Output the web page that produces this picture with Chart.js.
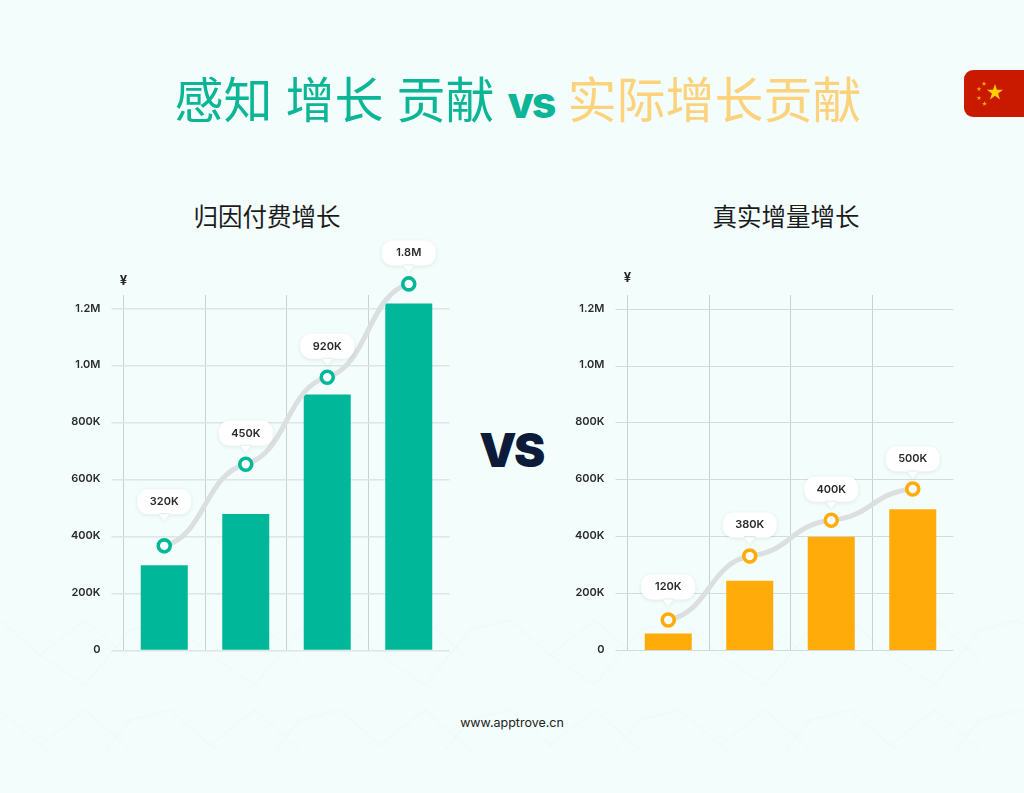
<!DOCTYPE html>
<html>
<head>
<meta charset="utf-8">
<script src="https://cdn.jsdelivr.net/npm/chart.js@4"></script>
<style>
  html, body { margin: 0; padding: 0; }
  body { width: 1024px; height: 793px; position: relative; overflow: hidden; background: #f3fdfc; font-family: "Noto Sans CJK SC", sans-serif; }
  .abs { position: absolute; white-space: nowrap; }
  #decor { left: 0; top: 600px; }
  #title { left: 6px; width: 1024px; top: 62px; text-align: center; font-size: 49px; line-height: 70px; word-spacing: 2px; color: #0cb596; }
  #title .vs { font-family: Inter, sans-serif; font-weight: 800; font-size: 43px; letter-spacing: -2px; }
  #title .real { color: #fdd27c; }
  .sub { top: 199px; width: 300px; text-align: center; font-size: 24.5px; line-height: 34px; color: #1c1c1c; }
  #bigvs { left: 461px; width: 100px; top: 415px; text-align: center; font-family: Inter, sans-serif; font-weight: 900; font-size: 47px; letter-spacing: -2.5px; line-height: 70px; color: #0c1b3a; }
  #site { left: 0; width: 1024px; top: 714px; text-align: center; font-family: Inter, sans-serif; font-size: 12.5px; line-height: 18px; color: #222; }
  #flag { left: 964px; top: 70px; width: 60px; height: 47px; background: #c91a00; border-radius: 9px 0 0 9px; }
  canvas { position: absolute; }
</style>
</head>
<body>
<svg class="abs" id="decor" width="1024" height="193">
  <defs>
    <pattern id="chev" width="170" height="90" patternUnits="userSpaceOnUse">
      <path d="M0 20 L40 55 L85 85 M85 85 L130 30 L170 20 M40 55 L85 20 L130 60" fill="none" stroke="#f0faf9" stroke-width="1.5"/>
    </pattern>
  </defs>
  <rect width="1024" height="150" fill="url(#chev)"/>
</svg>
<div class="abs" id="title">感知 增长 贡献 <span class="vs">vs</span> <span class="real">实际增长贡献</span></div>
<div class="abs sub" style="left:117px">归因付费增长</div>
<div class="abs sub" style="left:636px">真实增量增长</div>
<div class="abs" id="bigvs">VS</div>
<div class="abs" id="site">www.apptrove.cn</div>
<div class="abs" id="flag">
  <svg width="60" height="47" viewBox="0 0 60 47">
    <defs>
      <polygon id="star" points="0,-1 0.225,-0.31 0.95,-0.31 0.36,0.12 0.59,0.81 0,0.38 -0.59,0.81 -0.36,0.12 -0.95,-0.31 -0.225,-0.31"/>
    </defs>
    <use href="#star" fill="#ffd000" transform="translate(31 22.5) scale(8.5)"/>
    <use href="#star" fill="#ffa800" transform="translate(20 13.7) scale(2.6)"/>
    <use href="#star" fill="#ffa800" transform="translate(15 19) scale(2.6)"/>
    <use href="#star" fill="#ffa800" transform="translate(15 28) scale(2.6)"/>
    <use href="#star" fill="#ffa800" transform="translate(20.5 33.7) scale(2.6)"/>
  </svg>
</div>
<canvas id="leftChart" width="410" height="440" style="left:50px;top:230px;width:410px;height:440px"></canvas>
<canvas id="rightChart" width="410" height="440" style="left:554px;top:230px;width:410px;height:440px"></canvas>
<script>
var categories = ["Q1", "Q2", "Q3", "Q4"];
var yTickValues = [0, 200000, 400000, 600000, 800000, 1000000, 1200000];
var yTickLabels = ["0", "200K", "400K", "600K", "800K", "1.0M", "1.2M"];

var attributedBars = [300000, 480000, 900000, 1220000];
var attributedLine = [368000, 655000, 961000, 1289000];
var attributedLabels = ["320K", "450K", "920K", "1.8M"];

var realBars = [60000, 245000, 400000, 497000];
var realLine = [107000, 332000, 458000, 568000];
var realLabels = ["120K", "380K", "400K", "500K"];

// flat S-shaped curve between the points, tension alone does not give this
var sCurve = {
  id: "sCurve",
  beforeDatasetsDraw: function (chart) {
    var meta = chart.getDatasetMeta(1);
    var pts = meta.data;
    for (var i = 0; i < pts.length; i++) {
      var p = pts[i], prev = pts[i - 1], next = pts[i + 1];
      p.cp1x = p.x; p.cp1y = p.y; p.cp2x = p.x; p.cp2y = p.y;
      if (prev) { p.cp1x = p.x - (p.x - prev.x) * 0.5; p.cp1y = p.y - (p.y - prev.y) * 0.12; }
      if (next) { p.cp2x = p.x + (next.x - p.x) * 0.5; p.cp2y = p.y + (next.y - p.y) * 0.12; }
    }
    meta.dataset._pointsUpdated = true;
  }
};

// speech bubbles above the points + the currency mark over the axis
var bubbles = {
  id: "bubbles",
  afterDatasetsDraw: function (chart, args, opts) {
    var ctx = chart.ctx;
    var pts = chart.getDatasetMeta(1).data;
    ctx.save();
    for (var i = 0; i < pts.length; i++) {
      // a point above the plot area is skipped by the controller, draw it here
      if (pts[i].y < chart.chartArea.top) pts[i].draw(ctx);
      var cx = pts[i].x, cy = pts[i].y - opts.lift[i];
      var w = 54, h = 25;
      ctx.save();
      ctx.shadowColor = "rgba(0,0,0,0.09)";
      ctx.shadowBlur = 4;
      ctx.shadowOffsetY = 1;
      ctx.fillStyle = "#ffffff";
      ctx.beginPath();
      ctx.roundRect(cx - w / 2, cy - h / 2, w, h, 11);
      ctx.moveTo(cx - 6, cy + h / 2 - 1);
      ctx.lineTo(cx, cy + h / 2 + 6.5);
      ctx.lineTo(cx + 6, cy + h / 2 - 1);
      ctx.fill();
      ctx.restore();
      ctx.fillStyle = "#2a2a2a";
      ctx.font = "600 11px Inter, sans-serif";
      ctx.textAlign = "center";
      ctx.textBaseline = "middle";
      ctx.fillText(opts.labels[i], cx, cy);
    }
    ctx.fillStyle = "#2a2a2a";
    ctx.font = "700 13px Inter, sans-serif";
    ctx.textAlign = "center";
    ctx.textBaseline = "middle";
    ctx.fillText("¥", chart.chartArea.left, chart.chartArea.top + opts.yenDy);
    ctx.restore();
  }
};

function makeChart(id, bars, line, labels, color, lift, yenDy, hLine) {
  return new Chart(document.getElementById(id).getContext("2d"), {
    type: "bar",
    plugins: [sCurve, bubbles],
    data: {
      labels: categories,
      datasets: [
        { type: "bar", data: bars, backgroundColor: color, barPercentage: 0.577, categoryPercentage: 1, order: 2 },
        {
          type: "line", data: line, clip: false, order: 1,
          borderColor: "#dcdfdf", borderWidth: 5, tension: 0.4,
          pointRadius: 6, pointBorderWidth: 3.6, pointBorderColor: color, pointBackgroundColor: "#ffffff"
        }
      ]
    },
    options: {
      responsive: false,
      animation: false,
      events: [],
      layout: { padding: { top: 65, right: 10.5, bottom: 19.5 } },
      plugins: {
        legend: { display: false },
        tooltip: { enabled: false },
        bubbles: { labels: labels, lift: lift, yenDy: yenDy }
      },
      scales: {
        x: {
          border: { display: false },
          grid: {
            offset: true,
            drawTicks: false,
            color: function (c) { return c.index < categories.length ? "#c9d2d2" : "transparent"; }
          },
          ticks: { display: false },
          afterFit: function (s) { s.height = 0; }
        },
        y: {
          min: 0,
          max: 1250000,
          border: { display: false },
          grid: { color: hLine.color, tickLength: 12, lineWidth: hLine.width },
          ticks: {
            padding: 11,
            labelOffset: -1,
            color: "#2a2a2a",
            font: { family: "Inter, sans-serif", size: 11, weight: "600" },
            callback: function (v) { return yTickLabels[yTickValues.indexOf(v)]; }
          },
          // fixed tick list, stepSize gets rounded against this max
          afterBuildTicks: function (s) {
            s.ticks = yTickValues.map(function (v) { return { value: v }; });
          },
          afterFit: function (s) { s.width = 73.5; }
        }
      }
    }
  });
}

makeChart("leftChart", attributedBars, attributedLine, attributedLabels, "#00b899", [44, 31, 31, 31], -14, { color: "#dde5e5", width: 1.5 });
makeChart("rightChart", realBars, realLine, realLabels, "#ffac0a", [33, 31, 31, 30], -17, { color: "#d3dbdb", width: 1 });
</script>
</body>
</html>
